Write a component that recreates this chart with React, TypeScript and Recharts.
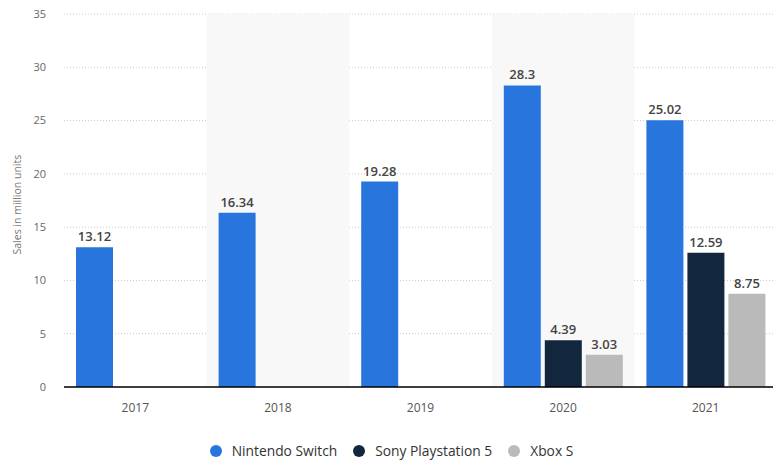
import { BarChart, Bar, XAxis, YAxis, CartesianGrid, Legend, LabelList, ReferenceArea } from 'recharts';

const YEARS = ['2017', '2018', '2019', '2020', '2021'];
const SWITCH = [13.12, 16.34, 19.28, 28.3, 25.02];
const PS5 = [null, null, null, 4.39, 12.59];
const XBOX = [null, null, null, 3.03, 8.75];
const Y_TICKS = [0, 5, 10, 15, 20, 25, 30, 35];
const SHADED = ['2018', '2020'];

const FONT = '"Open Sans", "Noto Sans", sans-serif';

const data = YEARS.map((year, i) => ({
  year,
  nintendo: SWITCH[i],
  ps5: PS5[i],
  xbox: XBOX[i],
}));

const labelStyle = { fill: '#444', fontSize: 13, fontWeight: 600, fontFamily: FONT };

// legend drawn by hand so its spacing matches the reference
function LegendContent({ payload }: any) {
  const items = payload || [];
  return (
    <div style={{ display: 'flex', justifyContent: 'center', alignItems: 'center', height: 38, paddingTop: 20, paddingLeft: 10, boxSizing: 'border-box', lineHeight: '18px' }}>
      {items.map((item: any, i: number) => (
        <div key={item.value} style={{ display: 'flex', alignItems: 'center', marginRight: i < items.length - 1 ? 16 : 0 }}>
          <span style={{ width: 12, height: 12, borderRadius: 6, background: item.color, marginRight: 10, display: 'inline-block' }} />
          <span style={{ color: '#333', fontSize: 13.8, fontFamily: FONT }}>{item.value}</span>
        </div>
      ))}
    </div>
  );
}

export default function App() {
  return (
    <div style={{ position: 'absolute', left: 0, top: 0, width: 773, height: 460, overflow: 'hidden', background: '#fff' }}>
      <BarChart
        width={777}
        height={460}
        data={data}
        margin={{ top: 14, right: 0, bottom: 0, left: 0 }}
        barSize={37}
        barGap={4}
      >
        {SHADED.map((y) => (
          <ReferenceArea key={y} x1={y} x2={y} y1={0} y2={35} fill="#f8f8f8" fillOpacity={1} stroke="none" ifOverflow="extendDomain" />
        ))}
        <CartesianGrid vertical={false} stroke="#c8c8c8" strokeDasharray="1 2" />
        <XAxis
          dataKey="year"
          height={35}
          tickLine={false}
          axisLine={{ stroke: '#000', strokeWidth: 1.5 }}
          tick={{ fill: '#555', fontSize: 12, fontFamily: FONT }}
          tickMargin={10}
        />
        <YAxis
          width={64}
          domain={[0, 35]}
          ticks={Y_TICKS}
          axisLine={false}
          tickLine={false}
          tickMargin={12}
          tick={{ fill: '#666', fontSize: 11, fontFamily: FONT }}
          label={{
            value: 'Sales in million units',
            angle: -90,
            position: 'insideLeft',
            offset: 17,
            dy: 54,
            style: { fill: '#777', fontSize: 10.5, fontFamily: FONT },
          }}
        />
        <Legend
          verticalAlign="bottom"
          height={38}
          content={<LegendContent />}
          wrapperStyle={{ left: 0, width: 773, height: 38 }}
        />
        <Bar dataKey="nintendo" name="Nintendo Switch" fill="#2876dd" isAnimationActive={false}>
          <LabelList dataKey="nintendo" position="top" offset={6} style={labelStyle} />
        </Bar>
        <Bar dataKey="ps5" name="Sony Playstation 5" fill="#12273d" isAnimationActive={false}>
          <LabelList dataKey="ps5" position="top" offset={6} style={labelStyle} />
        </Bar>
        <Bar dataKey="xbox" name="Xbox S" fill="#bababa" isAnimationActive={false}>
          <LabelList dataKey="xbox" position="top" offset={6} style={labelStyle} />
        </Bar>
      </BarChart>
    </div>
  );
}
